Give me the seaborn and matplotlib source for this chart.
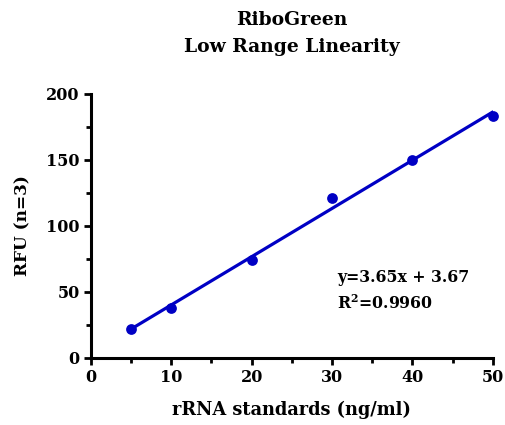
import matplotlib
matplotlib.use("Agg")
import matplotlib.pyplot as plt
import numpy as np
import seaborn as sns
from matplotlib.ticker import MultipleLocator

# standards (ng/ml) and mean RFU
conc = [5, 10, 20, 30, 40, 50]
rfu = [22, 38, 74, 121, 150, 183]
fit_text = ["y=3.65x + 3.67", "R$^2$=0.9960"]

sns.set_style("ticks", {"axes.edgecolor": "black", "text.color": "black",
                        "xtick.color": "black", "ytick.color": "black",
                        "axes.labelcolor": "black"})
plt.rcParams["font.family"] = ["DejaVu Serif"]
plt.rcParams["font.weight"] = "bold"
plt.rcParams["mathtext.fontset"] = "custom"
plt.rcParams["mathtext.rm"] = "DejaVu Serif:bold"

blue = "#0000c4"
fig = plt.figure(figsize=(5.05, 4.25), dpi=100)
ax = fig.add_axes([0.180, 0.158, 0.796, 0.621])

sns.regplot(x=conc, y=rfu, ax=ax, ci=None, truncate=True, color=blue,
            scatter_kws=dict(s=60, clip_on=False, zorder=3, linewidths=0, alpha=1),
            line_kws=dict(lw=2.3))

ax.set_xlim(0, 50)
ax.set_ylim(0, 200)
ax.xaxis.set_major_locator(MultipleLocator(10))
ax.xaxis.set_minor_locator(MultipleLocator(5))
ax.yaxis.set_major_locator(MultipleLocator(50))
ax.yaxis.set_minor_locator(MultipleLocator(25))
for s in ["top", "right"]:
    ax.spines[s].set_visible(False)
for s in ["left", "bottom"]:
    ax.spines[s].set_linewidth(2.2)
ax.tick_params(which="major", length=5, width=2, labelsize=11.5, pad=3)
ax.tick_params(which="minor", length=3.5, width=2)
for lab in ax.get_xticklabels() + ax.get_yticklabels():
    lab.set_fontweight("bold")

ax.set_xlabel("rRNA standards (ng/ml)", fontsize=12.8, fontweight="bold", labelpad=11)
ax.set_ylabel("RFU (n=3)", fontsize=12.2, fontweight="bold", labelpad=11)
ax.set_title("RiboGreen\nLow Range Linearity", fontsize=13.5, fontweight="bold",
             pad=30, linespacing=1.65)

ax.text(30.6, 61, fit_text[0], fontsize=11.3, fontweight="bold", va="center")
ax.text(30.6, 41, fit_text[1], fontsize=11.3, fontweight="bold", va="center")

fig.savefig("out.png", dpi=100)
